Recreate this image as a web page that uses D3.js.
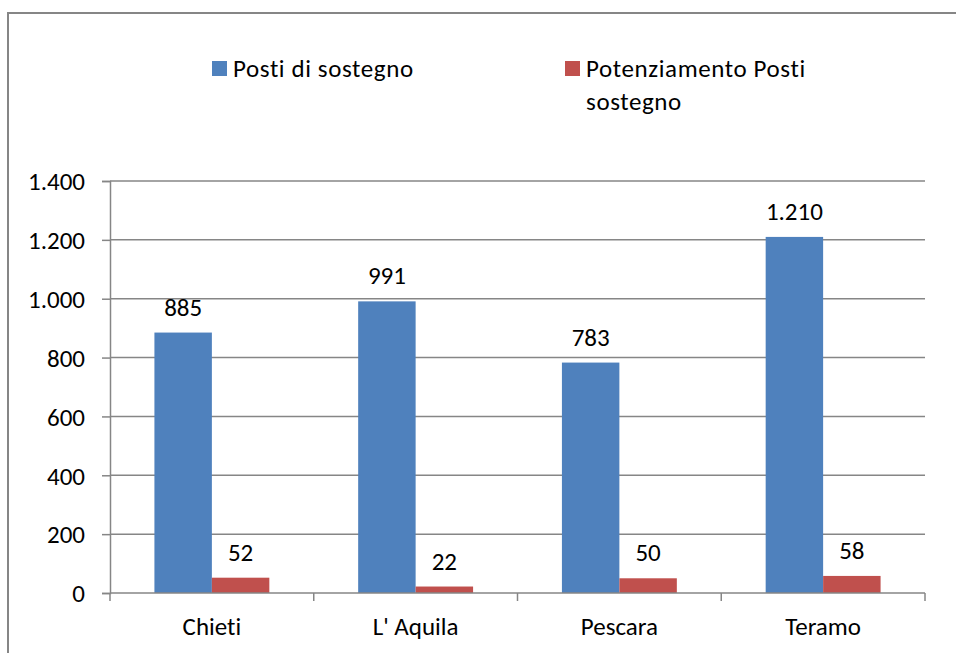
<!DOCTYPE html>
<html>
<head>
<meta charset="utf-8">
<script src="https://cdn.jsdelivr.net/npm/d3@7"></script>
<style>
  body { margin: 0; background: #fff; }
  text { font-family: Carlito, "Open Sans", sans-serif; fill: #000; font-variant-ligatures: none; }
</style>
</head>
<body>
<div id="chart-container"></div>
<script>
const categories = ["Chieti", "L' Aquila", "Pescara", "Teramo"];
const seriesNames = ["Posti di sostegno", "Potenziamento Posti sostegno"];
const postiSostegno = [885, 991, 783, 1210];
const potenziamento = [52, 22, 50, 58];
const yTicks = [0, 200, 400, 600, 800, 1000, 1200, 1400];
const colors = ["#4F81BD", "#C0504D"];

const W = 956, H = 653;
const plot = { left: 110, right: 925, top: 181, bottom: 593 };
const gridColor = "#868686";
const fs = 25;

const data = categories.map((c, i) => ({
    cat: c,
    values: [postiSostegno[i], potenziamento[i]]
}));

const svg = d3.select("#chart-container")
    .append("svg")
    .attr("width", W)
    .attr("height", H);

// cornice esterna
svg.append("path")
    .attr("d", `M8,${H} V13 H${W}`)
    .attr("fill", "none")
    .attr("stroke", gridColor)
    .attr("stroke-width", 2);

const x0 = d3.scaleBand().domain(categories).range([plot.left, plot.right]);
const bw = x0.bandwidth();
const x1 = d3.scaleBand().domain([0, 1]).range([bw * 0.218, bw * 0.782]);
const y = d3.scaleLinear().domain([0, 1400]).range([plot.bottom, plot.top]);

const fmt = d => d3.format(",")(d).replace(/,/g, ".");

// griglia
svg.append("g")
    .selectAll("line")
    .data(yTicks.filter(t => t > 0))
    .join("line")
    .attr("x1", plot.left).attr("x2", plot.right)
    .attr("y1", d => y(d)).attr("y2", d => y(d))
    .attr("stroke", gridColor)
    .attr("stroke-width", 1.5);

// asse Y
const yAxis = svg.append("g")
    .attr("transform", `translate(${plot.left},0)`)
    .call(d3.axisLeft(y).tickValues(yTicks).tickFormat(fmt).tickSize(8).tickPadding(17));
yAxis.select(".domain").attr("stroke", gridColor).attr("stroke-width", 1.5);
yAxis.selectAll(".tick line").attr("stroke", gridColor).attr("stroke-width", 1.5);
yAxis.selectAll("text").attr("font-size", fs).attr("font-family", null).attr("dy", "0.35em");

// barre
const groups = svg.append("g")
    .selectAll("g")
    .data(data)
    .join("g")
    .attr("transform", d => `translate(${x0(d.cat)},0)`);

groups.selectAll("rect")
    .data(d => d.values.map((v, i) => ({ v, i })))
    .join("rect")
    .attr("x", d => x1(d.i))
    .attr("width", x1.bandwidth())
    .attr("y", d => y(d.v))
    .attr("height", d => y(0) - y(d.v))
    .attr("fill", d => colors[d.i]);

groups.selectAll("text")
    .data(d => d.values.map((v, i) => ({ v, i })))
    .join("text")
    .attr("x", d => x1(d.i) + x1.bandwidth() / 2)
    .attr("y", d => y(d.v) - 17)
    .attr("text-anchor", "middle")
    .attr("font-size", fs)
    .text(d => fmt(d.v));

// asse X
const xAxis = svg.append("g")
    .attr("transform", `translate(0,${plot.bottom})`)
    .call(d3.axisBottom(x0).tickSize(0).tickPadding(24));
xAxis.select(".domain").remove();
xAxis.selectAll("text").attr("font-size", fs).attr("font-family", null);

svg.append("line")
    .attr("x1", plot.left).attr("x2", plot.right)
    .attr("y1", plot.bottom).attr("y2", plot.bottom)
    .attr("stroke", gridColor).attr("stroke-width", 1.5);

svg.append("g")
    .selectAll("line")
    .data(d3.range(categories.length + 1))
    .join("line")
    .attr("x1", i => plot.left + i * bw).attr("x2", i => plot.left + i * bw)
    .attr("y1", plot.bottom).attr("y2", plot.bottom + 8)
    .attr("stroke", gridColor).attr("stroke-width", 1.5);

// legenda
const legendX = [212, 565];
const legend = svg.append("g");
seriesNames.forEach((name, i) => {
    legend.append("rect")
        .attr("x", legendX[i]).attr("y", 61)
        .attr("width", 15).attr("height", 15)
        .attr("fill", colors[i]);
    const lines = i === 0 ? [name] : ["Potenziamento Posti", "sostegno"];
    lines.forEach((l, j) => {
        legend.append("text")
            .attr("x", legendX[i] + 21)
            .attr("y", 77 + j * 33)
            .attr("font-size", fs)
            .attr("letter-spacing", 0.6)
            .text(l);
    });
});
</script>
</body>
</html>
